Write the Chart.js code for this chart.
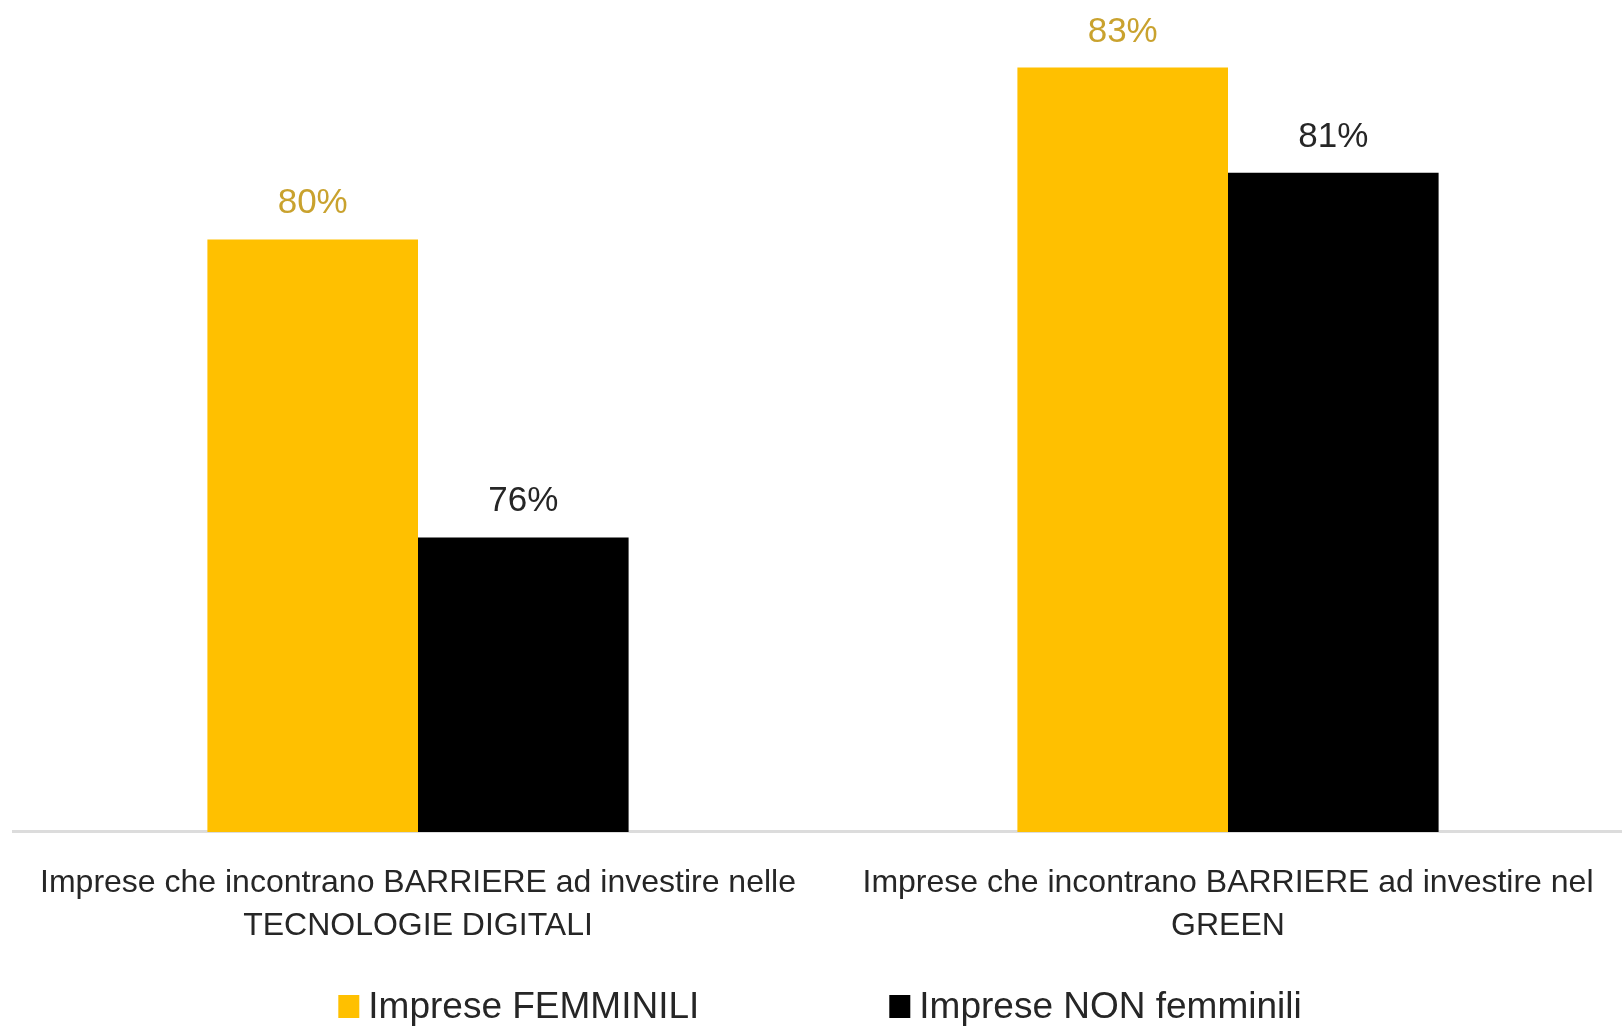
<!DOCTYPE html>
<html>
<head>
<meta charset="utf-8">
<script src="https://cdn.jsdelivr.net/npm/chart.js@4.4.1/dist/chart.umd.min.js"></script>
<style>
  html, body { margin: 0; padding: 0; background: #fff; overflow: hidden; }
  #wrap { width: 1640px; height: 1026px; }
</style>
</head>
<body>
<div id="wrap"><canvas id="barChart"></canvas></div>
<script>
const categories = [
    ["Imprese che incontrano BARRIERE ad investire nelle", "TECNOLOGIE DIGITALI"],
    ["Imprese che incontrano BARRIERE ad investire nel", "GREEN"]
];
const seriesNames = ["Imprese FEMMINILI", "Imprese NON femminili"];
const femminili = [80.45, 82.9];
const nonFemminili = [76.2, 81.4];
const seriesColors = ["#FFC000", "#000000"];
const labelColors = ["#C9A22E", "#262626"];
const axisMin = 72;
const axisMax = 83.75;

const FONT = "'Liberation Sans', Arial, sans-serif";

// percent labels above each bar
const valueLabels = {
    id: "valueLabels",
    afterDatasetsDraw(chart) {
        const ctx = chart.ctx;
        ctx.save();
        ctx.font = "35px " + FONT;
        ctx.textAlign = "center";
        ctx.textBaseline = "alphabetic";
        chart.data.datasets.forEach((ds, i) => {
            chart.getDatasetMeta(i).data.forEach((bar, j) => {
                ctx.fillStyle = labelColors[i];
                ctx.fillText(Math.round(ds.data[j]) + "%", bar.x, bar.y - 26);
            });
        });
        ctx.restore();
    }
};

// legend drawn by hand, the items are far apart
const bottomLegend = {
    id: "bottomLegend",
    afterDraw(chart) {
        const ctx = chart.ctx;
        const box = 21, gap = 9, spacing = 190;
        ctx.save();
        ctx.font = "37px " + FONT;
        ctx.textBaseline = "alphabetic";
        const widths = chart.data.datasets.map(ds => box + gap + ctx.measureText(ds.label).width);
        const total = widths.reduce((a, b) => a + b, 0) + spacing * (widths.length - 1);
        let x = (chart.width - total) / 2;
        const baseline = 1018;
        chart.data.datasets.forEach((ds, i) => {
            ctx.fillStyle = ds.backgroundColor;
            ctx.fillRect(x, baseline - 23, box, 23);
            ctx.fillStyle = "#262626";
            ctx.fillText(ds.label, x + box + gap, baseline);
            x += widths[i] + spacing;
        });
        ctx.restore();
    }
};

new Chart(document.getElementById("barChart").getContext("2d"), {
    type: "bar",
    data: {
        labels: categories,
        datasets: [
            {label: seriesNames[0], data: femminili, backgroundColor: seriesColors[0]},
            {label: seriesNames[1], data: nonFemminili, backgroundColor: seriesColors[1]}
        ]
    },
    options: {
        responsive: true,
        maintainAspectRatio: false,
        animation: false,
        layout: {padding: {top: 8, left: 13, right: 7, bottom: 49}},
        datasets: {bar: {categoryPercentage: 0.52, barPercentage: 1.0}},
        scales: {
            x: {
                grid: {display: false, drawTicks: false},
                border: {display: true, color: "#dcdcdc", width: 3},
                ticks: {
                    color: "#262626",
                    padding: 30,
                    font: {family: FONT, size: 32, lineHeight: 1.33}
                }
            },
            y: {
                display: false,
                min: axisMin,
                max: axisMax
            }
        },
        plugins: {
            legend: {display: false},
            tooltip: {enabled: false}
        }
    },
    plugins: [valueLabels, bottomLegend]
});
</script>
</body>
</html>
